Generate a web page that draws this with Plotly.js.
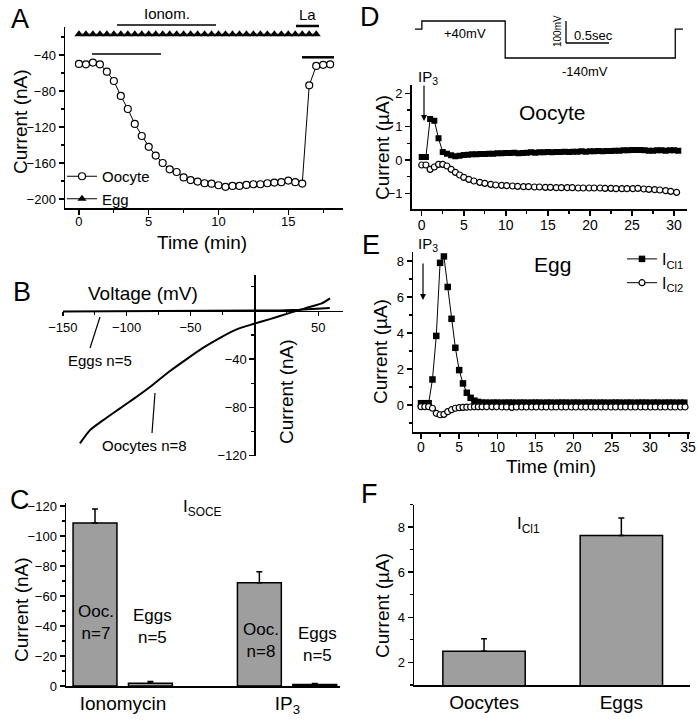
<!DOCTYPE html>
<html><head><meta charset="utf-8">
<script src="https://cdn.plot.ly/plotly-3.0.1.min.js"></script>
<style>html,body{margin:0;padding:0;background:#fff}#chart{width:697px;height:722px}</style>
</head><body><div id="chart"></div>
<script>
// ---------- Panel A: current vs time ----------
const aTime = [0,0.5,1,1.5,2,2.5,3,3.5,4,4.5,5,5.5,6,6.5,7,7.5,8,8.5,9,9.5,10,10.5,11,11.5,12,12.5,13,13.5,14,14.5,15,15.5,16,16.5,17,17.5,18];
const aOocyte = [-50,-50.4,-48.5,-50.4,-58.5,-68.9,-85.5,-100,-116.6,-130,-142,-151.7,-160,-167,-170,-176,-179,-180.6,-182.5,-183,-184.7,-186.5,-185.4,-185.4,-184.3,-183.6,-183.6,-182.5,-181.7,-181.3,-179.5,-181.3,-182.8,-73.7,-52.2,-51,-50.4];
const aEggTime = [0,0.5,1,1.5,2,2.5,3,3.5,4,4.5,5,5.5,6,6.5,7,7.5,8,8.5,9,9.5,10,10.5,11,11.5,12,12.5,13,13.5,14,14.5,15,15.5,16,16.5,17];
const aEgg = [-17,-17,-17,-17,-17,-17,-17,-17,-17,-17,-17,-17,-17,-17,-17,-17,-17,-17,-17,-17,-17,-17,-17,-17,-17,-17,-17,-17,-17,-17,-17,-17,-17,-17,-17];

// ---------- Panel B: I-V ----------
const bOocV = [-136.6,-128.7,-118.3,-105.2,-92.2,-79.2,-66.1,-53,-40,-26.9,-13.9,-0.9,12.2,26.5,39.6,52.7,59.2];
const bOocI = [-109.8,-98.8,-90.5,-80.8,-71.2,-61,-49.9,-40,-30.6,-22.4,-15.4,-11,-6.9,-2.2,2,6.1,10.3];
const bEggV = [-150,-125,-100,-75,-50,-25,0,20,35,45,55,59];
const bEggI = [-0.6,-0.5,-0.4,-0.3,-0.2,-0.1,0,0.3,0.8,1.3,1.8,2.2];

// ---------- Panel C: I_SOCE bars ----------
const cCats = ['Ionomycin','IP<sub>3</sub>'];
const cOoc = [-108.7,-68.9];
const cOocErr = [9.3,7.3];
const cEgg = [-1.8,-1.0];
const cEggErr = [1.2,0.6];
const cNoErr = [0,0];

// ---------- Panel D: oocyte ----------
const protoT = [0,0.08,0.08,1.05,1.05,3.03,3.03,3.12];
const protoV = [0,0,40,40,-140,-140,0,0];
const dSqX = [0,0.5,1,1.5,2,2.5,3,3.5,4,4.5,5,5.5,6,6.5,7,7.5,8,8.5,9,9.5,10,10.5,11,11.5,12,12.5,13,13.5,14,14.5,15,15.5,16,16.5,17,17.5,18,18.5,19,19.5,20,20.5,21,21.5,22,22.5,23,23.5,24,24.5,25,25.5,26,26.5,27,27.5,28,28.5,29,29.5,30,30.5];
const dSq = [0.09,0.09,1.23,1.18,0.65,0.24,0.19,0.14,0.11,0.13,0.15,0.16,0.17,0.17,0.18,0.18,0.19,0.19,0.2,0.2,0.21,0.21,0.22,0.2,0.21,0.22,0.23,0.22,0.23,0.23,0.24,0.23,0.24,0.24,0.25,0.24,0.25,0.25,0.26,0.25,0.26,0.26,0.27,0.26,0.27,0.27,0.28,0.28,0.29,0.29,0.3,0.3,0.3,0.29,0.28,0.28,0.29,0.29,0.28,0.29,0.29,0.28];
const dCircX = [0,0.5,1,1.5,2,2.5,3,3.5,4,4.5,5,5.6,6.2,6.9,7.5,8.2,8.8,9.5,10.1,10.8,11.4,12.1,12.7,13.4,14,14.7,15.3,16,16.6,17.3,17.9,18.6,19.2,19.9,20.5,21.2,21.8,22.5,23.1,23.8,24.4,25.1,25.7,26.4,27,27.7,28.3,29,29.6,30.3];
const dCirc = [-0.15,-0.15,-0.28,-0.21,-0.13,-0.13,-0.18,-0.28,-0.37,-0.45,-0.52,-0.58,-0.63,-0.67,-0.7,-0.73,-0.75,-0.76,-0.77,-0.78,-0.79,-0.8,-0.8,-0.81,-0.81,-0.82,-0.82,-0.83,-0.83,-0.83,-0.83,-0.84,-0.84,-0.84,-0.84,-0.84,-0.85,-0.85,-0.86,-0.86,-0.86,-0.86,-0.85,-0.87,-0.88,-0.89,-0.9,-0.92,-0.94,-0.97];

// ---------- Panel E: egg ----------
const eSqX = [0,0.5,1,1.5,2,2.5,3,3.5,4,4.5,5,5.5,6,6.5,7,7.5,8,8.5,9,9.5,10,10.5,11,11.5,12,12.5,13,13.5,14,14.5,15,15.5,16,16.5,17,17.5,18,18.5,19,19.5,20,20.5,21,21.5,22,22.5,23,23.5,24,24.5,25,25.5,26,26.5,27,27.5,28,28.5,29,29.5,30,30.5,31,31.5,32,32.5,33,33.5,34,34.5];
const eSq = [0.1,0.1,0.1,1.42,3.84,7.9,8.26,6.56,4.79,3.18,1.94,1.2,0.68,0.4,0.24,0.17,0.13,0.13,0.12,0.13,0.13,0.12,0.13,0.13,0.13,0.12,0.13,0.13,0.12,0.13,0.13,0.13,0.12,0.13,0.13,0.12,0.13,0.13,0.13,0.12,0.13,0.13,0.12,0.13,0.13,0.13,0.12,0.13,0.13,0.12,0.13,0.13,0.13,0.12,0.13,0.13,0.12,0.13,0.13,0.13,0.12,0.13,0.13,0.12,0.13,0.13,0.13,0.12,0.13,0.13];
const eCircX = [0,0.5,1,1.5,2,2.5,3,3.5,4,4.5,5,5.5,6,6.5,7,7.5,8,8.6,9.3,9.9,10.6,11.2,11.9,12.5,13.2,13.8,14.5,15.1,15.8,16.4,17.1,17.7,18.4,19,19.7,20.3,21,21.6,22.3,22.9,23.6,24.2,24.9,25.5,26.2,26.8,27.5,28.1,28.8,29.4,30.1,30.7,31.4,32,32.7,33.3,34,34.6];
const eCirc = [-0.09,-0.09,-0.09,-0.18,-0.46,-0.54,-0.52,-0.37,-0.26,-0.18,-0.15,-0.13,-0.12,-0.11,-0.1,-0.1,-0.1,-0.1,-0.1,-0.1,-0.11,-0.11,-0.13,-0.11,-0.11,-0.11,-0.11,-0.11,-0.11,-0.11,-0.11,-0.11,-0.11,-0.11,-0.11,-0.11,-0.11,-0.11,-0.11,-0.11,-0.11,-0.11,-0.11,-0.11,-0.11,-0.11,-0.11,-0.11,-0.11,-0.11,-0.11,-0.11,-0.11,-0.11,-0.11,-0.11,-0.11,-0.11];

// ---------- Panel F: I_Cl1 bars ----------
const fCats = ['Oocytes','Eggs'];
const fCl1 = [2.5,7.63];
const fCl1Err = [0.55,0.77];

const W = 697, H = 722;
const FONT = 'Liberation Sans, Arial, Helvetica, sans-serif';
const px = v => v / W;
const py = v => 1 - v / H;
const BAR = 'rgb(158,158,158)';

function ax(extra) {
  return Object.assign({
    showline: true, linecolor: 'black', linewidth: 1.5, mirror: false,
    ticks: 'outside', ticklen: 5, tickwidth: 1.5, tickcolor: 'black',
    showgrid: false, zeroline: false, fixedrange: true,
    tickfont: {family: FONT, size: 13, color: 'black'}
  }, extra);
}
function minor(d, t0) {
  return {dtick: d, tick0: t0 || 0, ticks: 'outside', ticklen: 3, tickwidth: 1.2, tickcolor: 'black', showgrid: false};
}

const openCircle = sz => ({symbol: 'circle', size: sz, color: 'white', line: {color: 'black', width: 1.2}});

const traces = [
  // A
  {x: aTime, y: aOocyte, xaxis: 'x', yaxis: 'y', mode: 'lines+markers', name: 'Oocyte', legend: 'legend',
   line: {color: 'black', width: 1}, marker: openCircle(7)},
  {x: aEggTime, y: aEgg, xaxis: 'x', yaxis: 'y', mode: 'lines+markers', name: 'Egg', legend: 'legend',
   line: {color: 'black', width: 1}, marker: {symbol: 'triangle-up', size: 8, color: 'black'}},
  // B
  {x: bEggV, y: bEggI, xaxis: 'x2', yaxis: 'y2', mode: 'lines', showlegend: false,
   line: {color: 'black', width: 2}},
  {x: bOocV, y: bOocI, xaxis: 'x2', yaxis: 'y2', mode: 'lines', showlegend: false,
   line: {color: 'black', width: 2, shape: 'spline', smoothing: 0.6}},
  // C
  {type: 'bar', x: cCats, y: cOoc, xaxis: 'x3', yaxis: 'y3', showlegend: false, width: 0.267, offset: -0.304,
   marker: {color: BAR, line: {color: 'black', width: 1.5}},
   error_y: {type: 'data', symmetric: false, array: cNoErr, arrayminus: cOocErr, color: 'black', thickness: 1.5, width: 3}},
  {type: 'bar', x: cCats, y: cEgg, xaxis: 'x3', yaxis: 'y3', showlegend: false, width: 0.267, offset: 0.033,
   marker: {color: BAR, line: {color: 'black', width: 1.5}},
   error_y: {type: 'data', symmetric: false, array: cNoErr, arrayminus: cEggErr, color: 'black', thickness: 1.5, width: 3}},
  // D protocol
  {x: protoT, y: protoV, xaxis: 'x7', yaxis: 'y7', mode: 'lines', showlegend: false,
   line: {color: 'black', width: 1.3}},
  // D
  {x: dSqX, y: dSq, xaxis: 'x4', yaxis: 'y4', mode: 'lines+markers', showlegend: false,
   line: {color: 'black', width: 1}, marker: {symbol: 'square', size: 6, color: 'black'}},
  {x: dCircX, y: dCirc, xaxis: 'x4', yaxis: 'y4', mode: 'lines+markers', showlegend: false,
   line: {color: 'black', width: 1}, marker: openCircle(6)},
  // E
  {x: eSqX, y: eSq, xaxis: 'x5', yaxis: 'y5', mode: 'lines+markers', name: 'I<sub>Cl1</sub>', legend: 'legend2',
   line: {color: 'black', width: 1}, marker: {symbol: 'square', size: 6.5, color: 'black'}},
  {x: eCircX, y: eCirc, xaxis: 'x5', yaxis: 'y5', mode: 'lines+markers', name: 'I<sub>Cl2</sub>', legend: 'legend2',
   line: {color: 'black', width: 1}, marker: openCircle(6)},
  // F
  {type: 'bar', x: fCats, y: fCl1, xaxis: 'x6', yaxis: 'y6', showlegend: false, width: 0.6,
   marker: {color: BAR, line: {color: 'black', width: 1.5}},
   error_y: {type: 'data', symmetric: false, array: fCl1Err, arrayminus: [0,0], color: 'black', thickness: 1.5, width: 3}}
];

function txt(x, y, text, size, extra) {
  return Object.assign({xref: 'paper', yref: 'paper', x: px(x), y: py(y), text: text, showarrow: false,
    xanchor: 'center', yanchor: 'middle', font: {family: FONT, size: size, color: 'black'}}, extra || {});
}
function seg(x0, y0, x1, y1, w) {
  return {type: 'line', xref: 'paper', yref: 'paper', x0: px(x0), y0: py(y0), x1: px(x1), y1: py(y1),
    line: {color: 'black', width: w || 1.3}};
}

const annotations = [
  // panel letters
  txt(20, 19, 'A', 27), txt(22, 292, 'B', 27), txt(20, 500, 'C', 27),
  txt(370, 17, 'D', 27), txt(371, 245, 'E', 27), txt(369, 494, 'F', 27),
  // A
  txt(21, 122, 'Current (nA)', 19, {textangle: -90}),
  txt(202, 242, 'Time (min)', 19),
  txt(167, 13, 'Ionom.', 15), txt(307, 14, 'La', 15),
  // B
  txt(143, 293, 'Voltage (mV)', 19),
  txt(286, 392, 'Current (nA)', 19, {textangle: -90}),
  txt(100, 360, 'Eggs n=5', 15), txt(144, 445, 'Oocytes n=8', 15),
  // C
  txt(21, 610, 'Current (nA)', 19, {textangle: -90}),
  txt(202, 508, 'I<sub>SOCE</sub>', 17),
  txt(96, 622, 'Ooc.<br>n=7', 17), txt(152, 626, 'Eggs<br>n=5', 17),
  txt(261, 640, 'Ooc.<br>n=8', 17), txt(317, 644, 'Eggs<br>n=5', 17),
  // D
  txt(465, 33, '+40mV', 13), txt(585, 71, '-140mV', 13),
  txt(557, 31, '100mV', 10, {textangle: -90}), txt(593, 36, '0.5sec', 13),
  txt(428, 78, 'IP<sub>3</sub>', 15),
  txt(552, 113, 'Oocyte', 21),
  txt(383, 147, 'Current (µA)', 19, {textangle: -90}),
  {xref: 'paper', yref: 'paper', x: px(424), y: py(121), ax: 0, ay: -37, text: '', showarrow: true,
   arrowhead: 2, arrowsize: 1, arrowwidth: 1.2, arrowcolor: 'black'},
  // E
  txt(428, 244, 'IP<sub>3</sub>', 15),
  txt(552, 265, 'Egg', 21),
  txt(380, 352, 'Current (µA)', 19, {textangle: -90}),
  txt(551, 466, 'Time (min)', 19),
  {xref: 'paper', yref: 'paper', x: px(423), y: py(300), ax: 0, ay: -38, text: '', showarrow: true,
   arrowhead: 2, arrowsize: 1, arrowwidth: 1.2, arrowcolor: 'black'},
  // F
  txt(528, 525, 'I<sub>Cl1</sub>', 17),
  txt(382, 606, 'Current (µA)', 19, {textangle: -90})
];

const shapes = [
  seg(117, 25, 216, 25, 1.5), seg(296, 26, 319, 26, 2.5),
  seg(92, 54, 161, 54, 1.5), seg(302, 57.3, 334, 57.3, 2.5),
  seg(100, 317, 90, 348, 1.2), seg(155, 393, 152, 433, 1.2),
  seg(566, 21, 566, 43, 1.3), seg(566, 43, 609, 43, 1.3)
];

const layout = {
  width: W, height: H, margin: {l: 0, r: 0, t: 0, b: 0},
  paper_bgcolor: 'white', plot_bgcolor: 'rgba(0,0,0,0)',
  font: {family: FONT, color: 'black'},
  hovermode: false, barmode: 'overlay',
  // A
  xaxis: ax({domain: [px(65), px(343)], range: [-1, 18.92], dtick: 5, tick0: 0, minor: minor(2.5), anchor: 'y',
    ticklabelstandoff: -4}),
  yaxis: ax({domain: [py(208.3), py(26.7)], range: [-210.3, -8.6], dtick: 40, tick0: -40, minor: minor(20), anchor: 'x'}),
  // B
  xaxis2: ax({domain: [px(62.8), px(343.3)], range: [-150, 69.6], anchor: 'free', position: py(310.7),
    tickmode: 'array', tickvals: [-150,-100,-50,50], ticklen: 4, minor: minor(25)}),
  yaxis2: ax({domain: [py(455.7), py(275)], range: [-120, 29.6], anchor: 'free', position: px(254.4),
    tickmode: 'array', tickvals: [-120,-80,-40], minor: minor(20)}),
  // C
  xaxis3: ax({domain: [px(66), px(340)], type: 'category', range: [-0.347, 1.32], ticks: '', anchor: 'y3',
    tickfont: {family: FONT, size: 19, color: 'black'}}),
  yaxis3: ax({domain: [py(686), py(503)], range: [0, -122], dtick: 20, tick0: 0, minor: minor(10), anchor: 'x3'}),
  // D
  xaxis4: ax({domain: [px(411.7), px(686.7)], range: [-1.19, 31.5], dtick: 5, tick0: 0, minor: minor(2.5), anchor: 'y4',
    tickfont: {family: FONT, size: 14, color: 'black'}, ticklabelstandoff: -2}),
  yaxis4: ax({domain: [py(209), py(85)], range: [-1.47, 2.25], dtick: 1, tick0: 0, minor: minor(0.5), anchor: 'x4'}),
  // E
  xaxis5: ax({domain: [px(413), px(690)], range: [-1.05, 35.25], dtick: 5, tick0: 0, minor: minor(2.5), anchor: 'y5',
    tickfont: {family: FONT, size: 14, color: 'black'}, ticklabelstandoff: -3}),
  yaxis5: ax({domain: [py(432), py(251.7)], range: [-1.5, 8.52], dtick: 2, tick0: 0, minor: minor(1), anchor: 'x5'}),
  // F
  xaxis6: ax({domain: [px(414), px(690)], type: 'category', range: [-0.51, 1.5], ticks: '', anchor: 'y6',
    tickfont: {family: FONT, size: 19, color: 'black'}}),
  yaxis6: ax({domain: [py(685), py(504.5)], range: [1, 9], dtick: 2, tick0: 0, minor: minor(1), anchor: 'x6'}),
  // D protocol (hidden axes)
  xaxis7: {domain: [px(410.7), px(687.3)], range: [-0.05, 3.17], visible: false, fixedrange: true, anchor: 'y7'},
  yaxis7: {domain: [py(59.03), py(19.97)], range: [-145, 45], visible: false, fixedrange: true, anchor: 'x7'},
  showlegend: true,
  legend: {x: px(62), y: py(160), xanchor: 'left', yanchor: 'top', bgcolor: 'rgba(0,0,0,0)',
    font: {family: FONT, size: 15, color: 'black'}, itemwidth: 30, tracegroupgap: 0},
  legend2: {x: px(622), y: py(242), xanchor: 'left', yanchor: 'top', bgcolor: 'rgba(0,0,0,0)',
    font: {family: FONT, size: 16, color: 'black'}, itemwidth: 30, tracegroupgap: 0},
  annotations: annotations,
  shapes: shapes
};

Plotly.newPlot('chart', traces, layout, {staticPlot: true, displayModeBar: false});
</script>
</body></html>
